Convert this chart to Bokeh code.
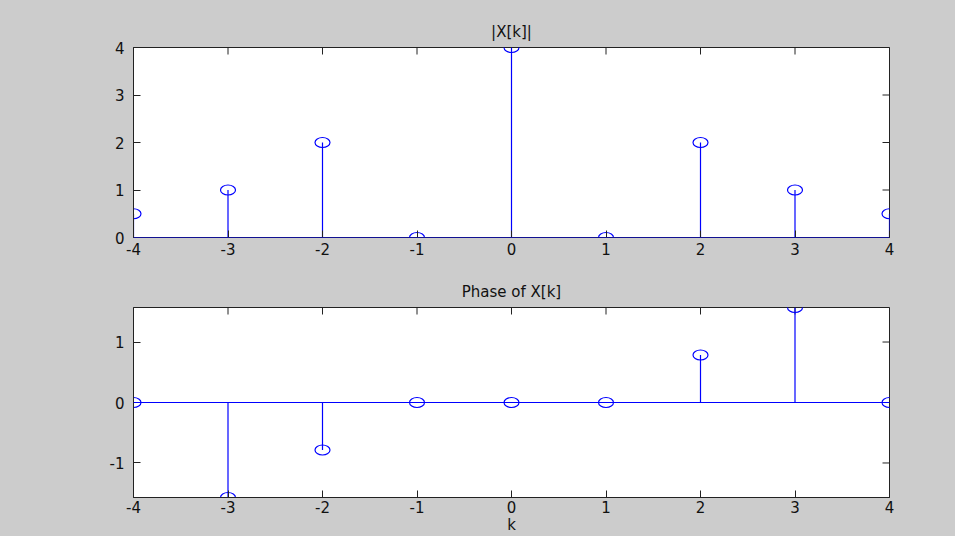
from bokeh.plotting import figure
from bokeh.models import Range1d, FixedTicker, Span, ColumnDataSource
from bokeh.layouts import column
from bokeh.embed import file_html
from bokeh.resources import INLINE

k = [-4, -3, -2, -1, 0, 1, 2, 3, 4]
magnitude = [0.5, 1.0, 2.0, 0.0, 4.0, 0.0, 2.0, 1.0, 0.5]
phase = [0.0, -1.5708, -0.7854, 0.0, 0.0, 0.0, 0.7854, 1.5708, 0.0]
x_ticks = [-4, -3, -2, -1, 0, 1, 2, 3, 4]
mag_ticks = [0, 1, 2, 3, 4]
phase_ticks = [-1, 0, 1]

FONT = "DejaVu Sans"
FS = "15px"
AX = "#222222"
BLUE = "#0000ff"
GRAY = "#cccccc"


def style_axis(ax, ticks):
    ax.ticker = FixedTicker(ticks=ticks)
    ax.major_label_overrides = {t: str(t) for t in ticks}
    ax.axis_line_color = AX
    ax.major_tick_line_color = AX
    ax.major_tick_in = 7
    ax.major_tick_out = 0
    ax.minor_tick_line_color = None
    ax.major_label_text_font = FONT
    ax.major_label_text_font_size = FS
    ax.major_label_text_color = "#111111"


def make_fig(title, yr, yticks, vals, height, min_top, min_bottom, xlabel=None):
    p = figure(width=955, height=height, x_range=Range1d(-4, 4), y_range=Range1d(*yr),
               output_backend="svg", toolbar_location=None,
               min_border_left=133, min_border_right=66,
               min_border_top=min_top, min_border_bottom=min_bottom)
    p.border_fill_color = GRAY
    p.background_fill_color = "white"
    p.outline_line_color = AX
    p.grid.visible = False
    p.title.text = title
    p.title.align = "center"
    p.title.text_font = FONT
    p.title.text_font_size = FS
    p.title.text_font_style = "normal"
    p.title.text_color = "#111111"
    p.title.standoff = 13
    xax = p.xaxis[0]
    yax = p.yaxis[0]
    style_axis(xax, x_ticks)
    style_axis(yax, yticks)
    xax.major_label_standoff = 5
    yax.major_label_standoff = 9
    if xlabel:
        xax.major_label_standoff = 3
        xax.axis_label = xlabel
        xax.axis_label_text_font = FONT
        xax.axis_label_text_font_size = FS
        xax.axis_label_text_font_style = "normal"
        xax.axis_label_text_color = "#111111"
        xax.axis_label_standoff = 0
    # mirrored ticks on the top and right edges (half of each dash is clipped by the frame)
    p.scatter(x=x_ticks, y=[yr[1]] * len(x_ticks), marker="dash", angle=1.5708, size=14,
              line_color=AX, line_width=1)
    p.scatter(x=[4] * len(yticks), y=yticks, marker="dash", size=14,
              line_color=AX, line_width=1)
    src = ColumnDataSource(dict(k=k, v=vals, z=[0] * len(k)))
    p.add_layout(Span(location=0, dimension="width", line_color=BLUE, line_width=1))
    p.segment(x0="k", y0="z", x1="k", y1="v", source=src, line_color=BLUE, line_width=1.2)
    p.ellipse(x="k", y="v", width=15, height=10, width_units="screen", height_units="screen",
              source=src, fill_color=None, line_color=BLUE, line_width=1.2)
    return p


p1 = make_fig("|X[k]|", (0, 4), mag_ticks, magnitude, 272, 47, 35)
p2 = make_fig("Phase of X[k]", (-1.5708, 1.5708), phase_ticks, phase, 264, 35, 39, xlabel="k")

layout = column(p1, p2, spacing=0, styles={"background-color": GRAY})
open("out.html", "w").write(file_html(layout, INLINE))
